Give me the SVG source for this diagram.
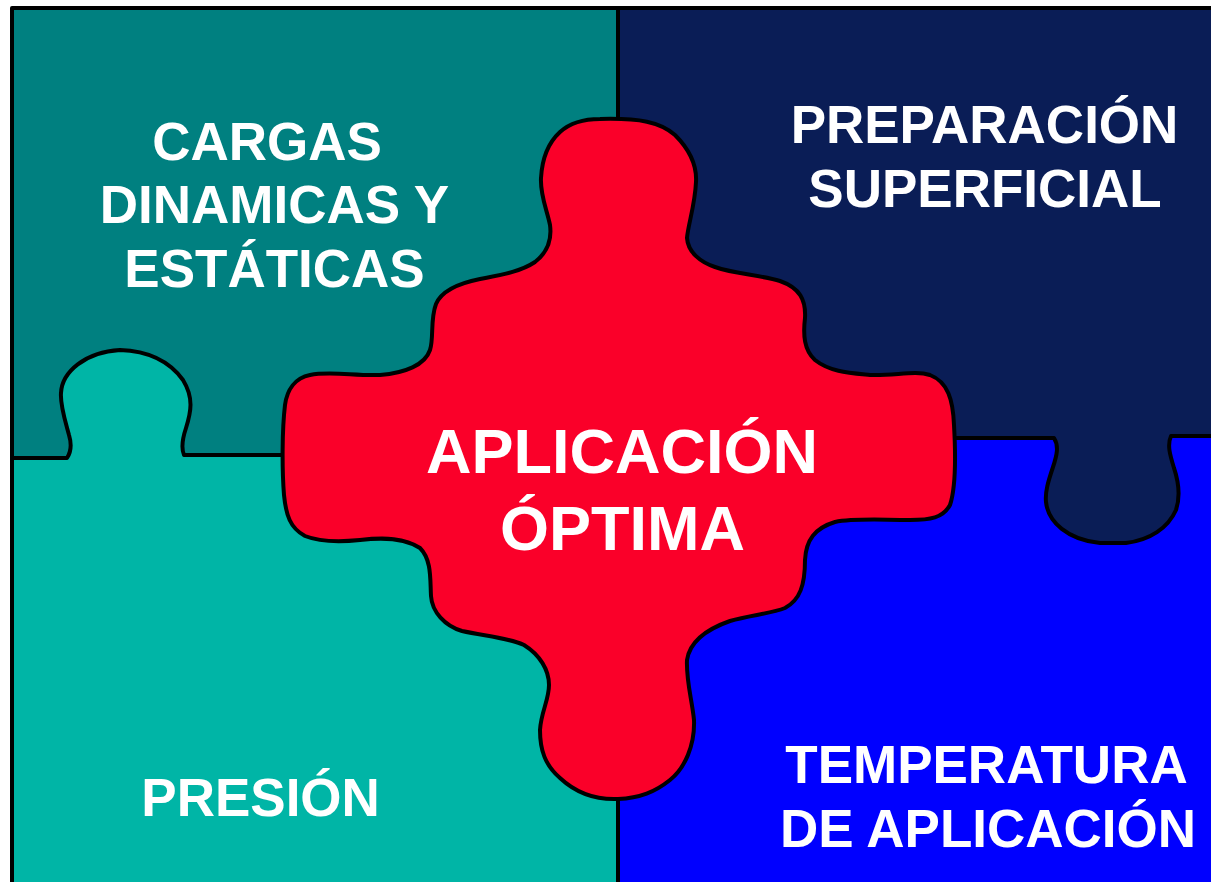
<svg xmlns="http://www.w3.org/2000/svg" width="1211" height="882" viewBox="0 0 1211 882">
<style>
.lbl{font-family:"Liberation Sans",Arial,sans-serif;font-weight:bold;fill:#ffffff;text-anchor:middle;font-size:53px}
.big{font-size:63px}
.edge{fill:none;stroke:#000;stroke-width:4;stroke-linejoin:round}
.piece{stroke:#000;stroke-width:4;stroke-linejoin:round}
</style>
<rect x="0" y="0" width="1211" height="882" fill="#ffffff"/>
<g id="cargas">
<rect x="12" y="8" width="606" height="452" fill="#008080"/>
<text class="lbl" x="267" y="160">CARGAS</text>
<text class="lbl" x="274.5" y="223">DINAMICAS Y</text>
<text class="lbl" x="274.5" y="287">ESTÁTICAS</text>
</g>
<g id="preparacion">
<rect x="618" y="8" width="596" height="560" fill="#0A1D56"/>
<text class="lbl" x="984.5" y="143">PREPARACIÓN</text>
<text class="lbl" x="985" y="207">SUPERFICIAL</text>
</g>
<g id="presion">
<path class="piece" fill="#00B5A6" d="M12,458 L67,458 C71,452 72,445 69,435 C65,420 60,405 61,393 C62,372 85,352 120,350 C150,351 170,362 183,380 C194,398 191,412 186,428 C182,440 181,448 184,455 L618,455 L618,885 L12,885 Z"/>
<text class="lbl" x="260.6" y="816">PRESIÓN</text>
</g>
<g id="temperatura">
<path class="piece" fill="#0000FF" d="M618,438 L1054,438 C1059,446 1057,455 1053,467 C1048,482 1045,492 1046,502 C1048,522 1068,540 1100,543 L1126,543 C1150,540 1168,528 1176,510 C1181,495 1178,480 1174,468 C1170,455 1167,445 1171,436 L1214,436 L1214,885 L618,885 Z"/>
<text class="lbl" x="986.5" y="783">TEMPERATURA</text>
<text class="lbl" x="988" y="847">DE APLICACIÓN</text>
</g>
<g id="dividers">
<path class="edge" d="M618,8 L618,125"/>
<path class="edge" d="M12,885 L12,8 L1214,8"/>
</g>
<g id="aplicacion">
<path class="piece" fill="#FA0029" stroke-width="4.5" d="M600,119 C640,118 660,122 675,135 C690,150 697,165 696,182 C695,205 688,225 687,238 C688,252 700,262 715,267 C735,274 760,275 780,281 C800,288 806,300 805,318 C803,335 804,350 815,360 C830,372 850,373 870,375 C895,376 915,370 930,375 C948,382 953,400 954,425 C956,460 955,490 950,505 C943,518 930,520 910,520 C880,520 855,518 835,522 C815,528 806,540 805,560 C805,585 800,600 785,608 C770,614 750,615 730,621 C710,628 690,640 687,660 C686,680 692,700 694,720 C695,745 685,768 670,780 C655,792 640,798 618,799 C595,800 575,792 560,778 C545,765 540,750 540,730 C541,712 549,700 549,685 C549,670 540,655 524,645 C510,638 485,636 462,631 C445,626 432,612 431,596 C430,580 432,560 420,548 C405,538 385,537 360,540 C340,542 320,542 305,536 C290,528 286,515 284,495 C282,470 282,430 285,405 C287,390 295,378 310,375 C330,371 355,376 380,375 C405,373 425,365 430,350 C434,338 430,320 436,304 C442,290 460,283 480,279 C500,275 520,272 535,262 C548,252 552,240 550,225 C547,210 540,195 541,178 C542,160 548,143 560,132 C570,123 585,119 600,119 Z"/>
<text class="lbl big" x="622" y="473">APLICACIÓN</text>
<text class="lbl big" x="622.5" y="550">ÓPTIMA</text>
</g>
</svg>
